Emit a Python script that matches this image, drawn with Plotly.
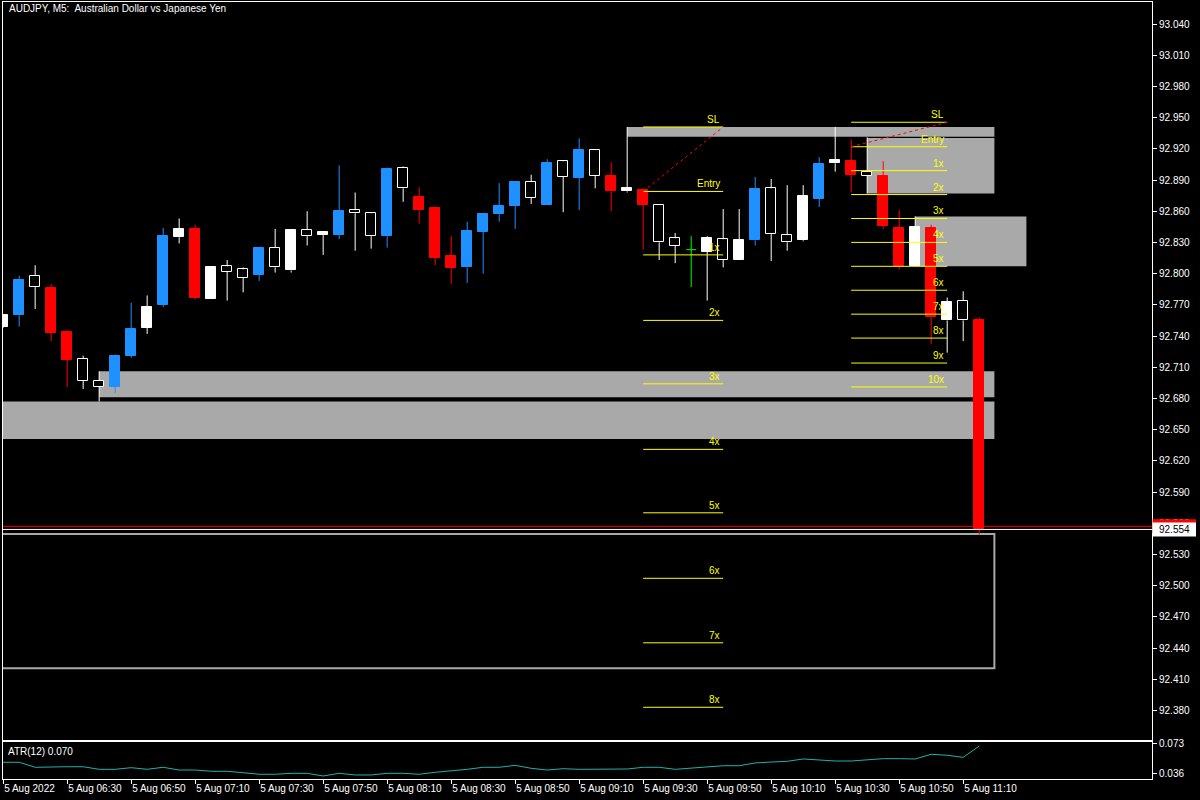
import plotly.graph_objects as go

# ---------------- data ----------------
opens = [92.749, 92.760, 92.798, 92.786, 92.744, 92.718, 92.697, 92.691, 92.721, 92.748,
         92.770, 92.835, 92.843, 92.776, 92.807, 92.804, 92.799, 92.825, 92.803, 92.842,
         92.837, 92.837, 92.861, 92.858, 92.836, 92.902, 92.874, 92.863, 92.817, 92.806,
         92.840, 92.857, 92.865, 92.888, 92.866, 92.908, 92.892, 92.919, 92.894, 92.879,
         92.880, 92.866, 92.834, 92.823, 92.821, 92.833, 92.813, 92.832, 92.882, 92.837,
         92.832, 92.872, 92.906, 92.908, 92.898, 92.894, 92.844, 92.807, 92.844, 92.755,
         92.774, 92.755]
highs = [92.761, 92.798, 92.808, 92.790, 92.746, 92.721, 92.706, 92.722, 92.772, 92.779,
         92.844, 92.853, 92.847, 92.806, 92.813, 92.806, 92.825, 92.843, 92.842, 92.860,
         92.841, 92.904, 92.878, 92.859, 92.902, 92.903, 92.883, 92.864, 92.836, 92.850,
         92.857, 92.887, 92.888, 92.895, 92.910, 92.909, 92.930, 92.919, 92.907, 92.941,
         92.882, 92.866, 92.839, 92.836, 92.836, 92.862, 92.862, 92.893, 92.891, 92.885,
         92.885, 92.912, 92.941, 92.929, 92.931, 92.908, 92.861, 92.855, 92.847, 92.777,
         92.783, 92.758]
lows = [92.748, 92.749, 92.766, 92.735, 92.691, 92.689, 92.677, 92.685, 92.719, 92.742,
        92.768, 92.829, 92.775, 92.776, 92.774, 92.782, 92.793, 92.801, 92.801, 92.827,
        92.818, 92.833, 92.822, 92.824, 92.825, 92.869, 92.848, 92.808, 92.790, 92.791,
        92.800, 92.850, 92.843, 92.867, 92.866, 92.859, 92.861, 92.882, 92.860, 92.878,
        92.823, 92.813, 92.810, 92.787, 92.774, 92.806, 92.813, 92.827, 92.812, 92.822,
        92.831, 92.864, 92.898, 92.878, 92.877, 92.843, 92.804, 92.807, 92.732, 92.724,
        92.735, 92.549]
closes = [92.760, 92.794, 92.787, 92.743, 92.717, 92.697, 92.691, 92.721, 92.747, 92.768,
          92.836, 92.843, 92.777, 92.806, 92.802, 92.796, 92.825, 92.806, 92.842, 92.836,
          92.840, 92.860, 92.858, 92.836, 92.901, 92.882, 92.861, 92.815, 92.805, 92.841,
          92.857, 92.865, 92.888, 92.873, 92.906, 92.893, 92.919, 92.894, 92.879, 92.882,
          92.866, 92.830, 92.827, 92.823, 92.834, 92.813, 92.832, 92.881, 92.838, 92.830,
          92.875, 92.905, 92.909, 92.895, 92.894, 92.846, 92.807, 92.845, 92.758, 92.773,
          92.755, 92.554]
# 1 = candle highlighted by the colouring indicator (blue bull / red bear)
strong = [0, 1, 0, 1, 1, 0, 0, 1, 1, 0,
          1, 0, 1, 0, 0, 0, 1, 0, 0, 0,
          0, 1, 0, 0, 1, 0, 1, 1, 1, 1,
          1, 1, 1, 0, 1, 0, 1, 0, 1, 0,
          1, 0, 0, 0, 0, 0, 0, 1, 0, 0,
          0, 1, 0, 1, 0, 1, 1, 0, 1, 0,
          0, 1]
atr = [0.0497, 0.0497, 0.0433, 0.0440, 0.0440, 0.0440, 0.0407, 0.0407, 0.0428, 0.0407,
       0.0433, 0.0398, 0.0398, 0.0382, 0.0382, 0.0364, 0.0344, 0.0344, 0.0356, 0.0356,
       0.0322, 0.0356, 0.0335, 0.0335, 0.0356, 0.0356, 0.0344, 0.0369, 0.0386, 0.0407,
       0.0433, 0.0433, 0.0458, 0.0420, 0.0398, 0.0415, 0.0407, 0.0407, 0.0411, 0.0411,
       0.0433, 0.0433, 0.0407, 0.0420, 0.0440, 0.0453, 0.0453, 0.0488, 0.0500, 0.0509,
       0.0539, 0.0526, 0.0513, 0.0513, 0.0526, 0.0543, 0.0543, 0.0539, 0.0599, 0.0586,
       0.0560, 0.0704]

time_tick_bars = [0, 4, 8, 12, 16, 20, 24, 28, 32, 36, 40, 44, 48, 52, 56, 60]
time_tick_labels = ["5 Aug 2022", "5 Aug 06:30", "5 Aug 06:50", "5 Aug 07:10", "5 Aug 07:30",
                    "5 Aug 07:50", "5 Aug 08:10", "5 Aug 08:30", "5 Aug 08:50", "5 Aug 09:10",
                    "5 Aug 09:30", "5 Aug 09:50", "5 Aug 10:10", "5 Aug 10:30", "5 Aug 10:50",
                    "5 Aug 11:10"]
price_ticks = [93.040, 93.010, 92.980, 92.950, 92.920, 92.890, 92.860, 92.830, 92.800,
               92.770, 92.740, 92.710, 92.680, 92.650, 92.620, 92.590, 92.560, 92.530,
               92.500, 92.470, 92.440, 92.410, 92.380]
atr_ticks = [0.073, 0.036]

# zones: (start bar, end bar, top price, bottom price)
zone_start = [39, 54, 57, 6, -5]
zone_end = [61.95, 61.95, 63.95, 61.95, 61.95]
zone_top = [92.941, 92.9305, 92.855, 92.706, 92.677]
zone_bottom = [92.9317, 92.877, 92.807, 92.681, 92.641]
box_start, box_end, box_top, box_bottom = -5, 61.95, 92.5495, 92.4205

fib1_start, fib1_end = 40, 45
fib1_prices = [92.941, 92.879, 92.818, 92.755, 92.694, 92.631, 92.570, 92.507, 92.445, 92.383]
fib1_labels = ["SL", "Entry", "1x", "2x", "3x", "4x", "5x", "6x", "7x", "8x"]
fib2_start, fib2_end = 53, 59
fib2_prices = [92.9455, 92.922, 92.899, 92.876, 92.853, 92.830, 92.807, 92.784, 92.761,
               92.738, 92.714, 92.691]
fib2_labels = ["SL", "Entry", "1x", "2x", "3x", "4x", "5x", "6x", "7x", "8x", "9x", "10x"]

bid, ask = 92.554, 92.557
atr_label = "ATR(12) 0.070"
title = "AUDJPY, M5:  Australian Dollar vs Japanese Yen"

# ---------------- styling ----------------
BLUE, RED, WHITE, BLACK, GREEN = "#1E90FF", "#FF0000", "#FFFFFF", "#000000", "#00FF00"
YELLOW, GRAY, TEAL = "#FFFF00", "#A9A9A9", "#20B2AA"
FONT = "Liberation Sans, Arial, sans-serif"
BODY_W = 0.625

n = len(opens)
xs = list(range(n))

fills, outlines = [], []
for i in range(n):
    o, c = opens[i], closes[i]
    if o == c:
        col, fill = GREEN, GREEN
    elif strong[i]:
        col = BLUE if c > o else RED
        fill = col
    else:
        col = WHITE
        fill = WHITE if c > o else BLACK
    fills.append(fill)
    outlines.append(col)

wicks = {}
for i in range(n):
    o, h, l, c = opens[i], highs[i], lows[i], closes[i]
    col = outlines[i]
    wx, wy = wicks.setdefault(col, ([], []))
    top, bot = max(o, c), min(o, c)
    if o == c:
        wx += [i, i, None, i - BODY_W / 2, i + BODY_W / 2, None]
        wy += [h, l, None, o, o, None]
        continue
    if h > top:
        wx += [i, i, None]
        wy += [top, h, None]
    if l < bot:
        wx += [i, i, None]
        wy += [bot, l, None]

fig = go.Figure()
for col, (wx, wy) in wicks.items():
    fig.add_trace(go.Scatter(x=wx, y=wy, mode="lines", line=dict(color=col, width=1),
                             hoverinfo="skip", showlegend=False))

fig.add_trace(go.Bar(
    x=xs,
    base=[min(o, c) for o, c in zip(opens, closes)],
    y=[abs(c - o) if c != o else None for o, c in zip(opens, closes)],
    width=BODY_W,
    marker=dict(color=fills, line=dict(color=outlines, width=1)),
    showlegend=False, hoverinfo="skip"))

fig.add_trace(go.Scatter(x=xs, y=atr, mode="lines", line=dict(color=TEAL, width=1),
                         xaxis="x2", yaxis="y2", showlegend=False, hoverinfo="skip"))

shapes = []
for s, e, t, b in zip(zone_start, zone_end, zone_top, zone_bottom):
    shapes.append(dict(type="rect", xref="x", yref="y", x0=s, x1=e, y0=b, y1=t,
                       fillcolor=GRAY, line=dict(width=0), layer="below"))
shapes.append(dict(type="rect", xref="x", yref="y", x0=box_start, x1=box_end,
                   y0=box_bottom, y1=box_top, line=dict(color=GRAY, width=2), layer="below"))

annotations = []
for (s, e, prices, labels) in [(fib1_start, fib1_end, fib1_prices, fib1_labels),
                               (fib2_start, fib2_end, fib2_prices, fib2_labels)]:
    for p, lab in zip(prices, labels):
        shapes.append(dict(type="line", xref="x", yref="y", x0=s, x1=e, y0=p, y1=p,
                           line=dict(color=YELLOW, width=1), layer="above"))
        annotations.append(dict(x=e, y=p, xref="x", yref="y", text=lab, showarrow=False,
                                xanchor="right", yanchor="bottom", xshift=-1, yshift=0,
                                font=dict(family=FONT, size=10, color=YELLOW)))
    shapes.append(dict(type="line", xref="x", yref="y", x0=s, x1=e, y0=prices[1], y1=prices[0],
                       line=dict(color=RED, width=1, dash="dot"), layer="above"))

# bid / ask lines
shapes.append(dict(type="line", xref="paper", yref="y", x0=0, x1=1, y0=ask, y1=ask,
                   line=dict(color=RED, width=1), layer="above"))
shapes.append(dict(type="line", xref="paper", yref="y", x0=0, x1=1, y0=bid, y1=bid,
                   line=dict(color=WHITE, width=1), layer="above"))
# price labels on the axis
shapes.append(dict(type="rect", xref="paper", yref="y", x0=1.0005, x1=1.0383,
                   y0=ask - 0.0067, y1=ask + 0.0067, fillcolor=RED, line=dict(width=0),
                   layer="above"))
shapes.append(dict(type="rect", xref="paper", yref="y", x0=1.0005, x1=1.0383,
                   y0=bid - 0.0067, y1=bid + 0.0067, fillcolor=WHITE, line=dict(width=0),
                   layer="above"))
annotations.append(dict(x=1.0196, y=bid, xref="paper", yref="y", text=f"{bid:.3f}",
                        showarrow=False, xanchor="center", yanchor="middle",
                        font=dict(family=FONT, size=10, color=BLACK)))

annotations.append(dict(x=0.0035, y=0.9915, xref="paper", yref="paper", text=title,
                        showarrow=False, xanchor="left", yanchor="middle",
                        font=dict(family=FONT, size=10, color=WHITE)))
annotations.append(dict(x=0.0026, y=0.035, xref="paper", yref="paper", text=atr_label,
                        showarrow=False, xanchor="left", yanchor="middle",
                        font=dict(family=FONT, size=10, color=WHITE)))

x_range = [-0.01, 71.80]
axis_common = dict(showgrid=False, zeroline=False, showline=True, mirror=True,
                   linecolor=WHITE, linewidth=1)

fig.update_layout(
    width=1200, height=800,
    margin=dict(l=3, r=48, t=2, b=21, autoexpand=False),
    paper_bgcolor=BLACK, plot_bgcolor=BLACK,
    bargap=0, barmode="overlay",
    shapes=shapes, annotations=annotations,
    xaxis=dict(range=x_range, domain=[0, 1], anchor="y", showticklabels=False, ticks="",
               **axis_common),
    yaxis=dict(range=[92.35106, 93.06115], domain=[0.04955, 1], side="right", anchor="x",
               tickvals=price_ticks, ticktext=[f"{v:.3f}" for v in price_ticks],
               ticks="outside", ticklen=4, tickcolor=WHITE,
               tickfont=dict(family=FONT, size=10, color=WHITE), **axis_common),
    xaxis2=dict(range=x_range, domain=[0, 1], anchor="y2",
                tickvals=time_tick_bars, ticktext=time_tick_labels,
                ticks="outside", ticklen=4, tickcolor=WHITE, ticklabelposition="outside right",
                tickfont=dict(family=FONT, size=10, color=WHITE), **axis_common),
    yaxis2=dict(range=[0.02836, 0.07491], domain=[0, 0.04698], side="right", anchor="x2",
                tickvals=atr_ticks, ticktext=[f"{v:.3f}" for v in atr_ticks],
                ticks="outside", ticklen=4, tickcolor=WHITE,
                tickfont=dict(family=FONT, size=10, color=WHITE), **axis_common),
)

fig.write_html("out.html", config={"displayModeBar": False},
               post_script="document.body.style.margin='0';document.body.style.overflow='hidden';")
